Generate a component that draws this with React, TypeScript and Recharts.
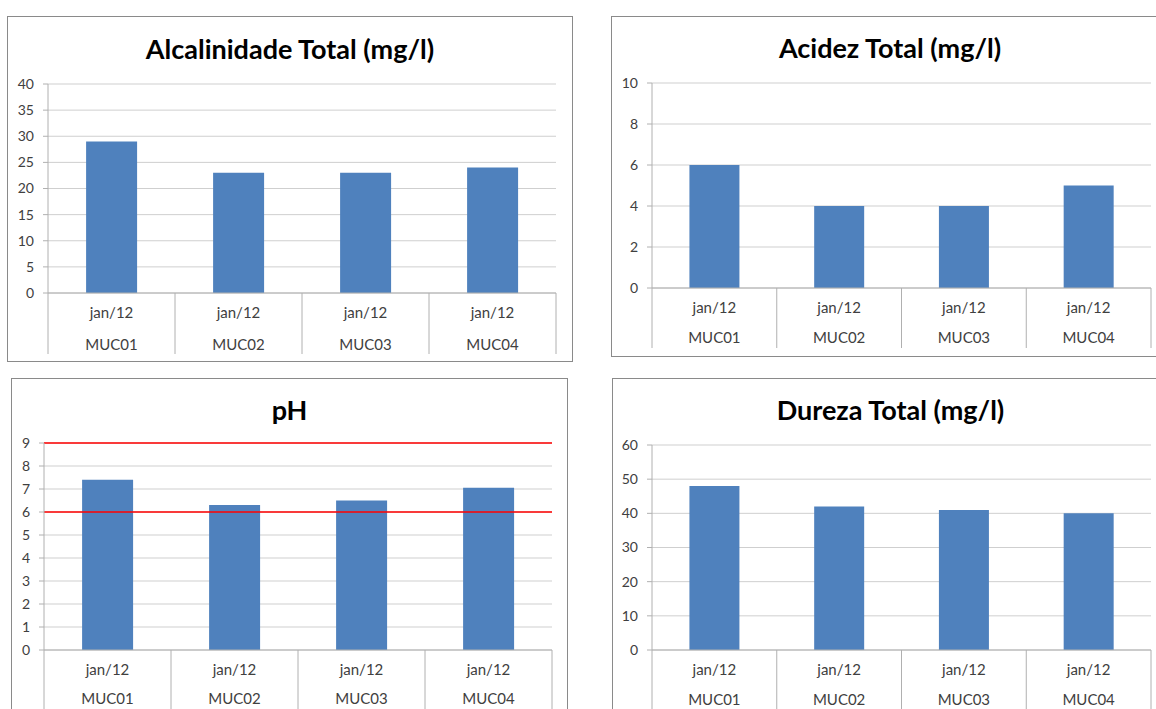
import React from 'react';
import { BarChart, Bar, XAxis, YAxis, CartesianGrid, ReferenceLine } from 'recharts';

const stations = ['MUC01', 'MUC02', 'MUC03', 'MUC04'];
const months = ['jan/12', 'jan/12', 'jan/12', 'jan/12'];

const alcalinidade = [29, 23, 23, 24];
const acidez = [6, 4, 4, 5];
const ph = [7.4, 6.3, 6.5, 7.05];
const dureza = [48, 42, 41, 40];

const alcTicks = [0, 5, 10, 15, 20, 25, 30, 35, 40];
const acidTicks = [0, 2, 4, 6, 8, 10];
const phTicks = [0, 1, 2, 3, 4, 5, 6, 7, 8, 9];
const durTicks = [0, 10, 20, 30, 40, 50, 60];
const phLimits = [6, 9];

const FONT = 'Lato, "Open Sans", sans-serif';
const GRID = '#cfcfcf';
const AXIS = '#b0b0b0';
const TEXT = '#404040';
const BAR = '#4f81bd';

type Box = { x: number; y: number; w: number; h: number };
type Plot = { l: number; t: number; r: number; b: number };

interface PanelProps {
  title: string;
  values: number[];
  ticks: number[];
  box: Box;
  plot: Plot;
  titleY: number;
  divLen: number;
  row2: number;
  limits?: number[];
}

const YW = 30;
const XH = 60;

const Panel: React.FC<PanelProps> = ({ title, values, ticks, box, plot, titleY, divLen, row2, limits }) => {
  const data = stations.map((s, i) => ({ name: s, month: months[i], value: values[i] }));
  const band = (plot.r - plot.l) / stations.length;
  const plotBottom = plot.b - box.y;
  const margin = {
    top: plot.t - box.y,
    left: plot.l - box.x - YW,
    right: box.x + box.w - plot.r,
    bottom: box.y + box.h - plot.b - XH,
  };

  // two-row category labels with Excel-style divider lines
  const renderTick = (p: any) => {
    const { x, index, payload } = p;
    const last = index === stations.length - 1;
    return (
      <g>
        <line x1={x - band / 2} x2={x - band / 2} y1={plotBottom} y2={plotBottom + divLen} stroke={AXIS} />
        {last && (
          <line x1={x + band / 2} x2={x + band / 2} y1={plotBottom} y2={plotBottom + divLen} stroke={AXIS} />
        )}
        <text x={x} y={plotBottom + 25} textAnchor="middle" fontSize={15} fill={TEXT} fontFamily={FONT}>
          {data[index].month}
        </text>
        <text x={x} y={plotBottom + row2} textAnchor="middle" fontSize={15} fill={TEXT} fontFamily={FONT}>
          {payload.value}
        </text>
      </g>
    );
  };

  return (
    <div
      style={{
        position: 'absolute',
        left: box.x,
        top: box.y,
        width: box.w,
        height: box.h,
        border: '1px solid #8a8a8a',
        boxSizing: 'border-box',
        background: '#fff',
      }}
    >
      <div
        style={{
          position: 'absolute',
          left: -1,
          top: titleY - box.y - 17,
          width: box.w,
          textAlign: 'center',
          fontFamily: FONT,
          fontWeight: 700,
          fontSize: 27,
          lineHeight: '34px',
          color: '#000',
          zIndex: 2,
        }}
      >
        {title}
      </div>
      <div style={{ position: 'absolute', left: -1, top: -1 }}>
        <BarChart width={box.w} height={box.h} data={data} margin={margin} barCategoryGap="30%">
          <CartesianGrid vertical={false} stroke={GRID} />
          <XAxis
            dataKey="name"
            interval={0}
            height={XH}
            axisLine={{ stroke: AXIS }}
            tickLine={false}
            tick={renderTick}
          />
          <YAxis
            width={YW}
            domain={[ticks[0], ticks[ticks.length - 1]]}
            ticks={ticks}
            interval={0}
            axisLine={{ stroke: AXIS }}
            tickLine={{ stroke: AXIS }}
            tickSize={5}
            tickMargin={9}
            tick={{ fontSize: 14, fill: TEXT, fontFamily: FONT }}
          />
          <Bar dataKey="value" fill={BAR} isAnimationActive={false} />
          {limits &&
            limits.map((v) => (
              <ReferenceLine key={v} y={v} stroke="#ff0000" strokeWidth={1.5} ifOverflow="extendDomain" />
            ))}
        </BarChart>
      </div>
    </div>
  );
};

export default function App() {
  return (
    <div
      style={{
        position: 'absolute',
        left: 0,
        top: 0,
        width: 1156,
        height: 709,
        overflow: 'hidden',
        background: '#fff',
      }}
    >
      <Panel
        title="Alcalinidade Total (mg/l)"
        values={alcalinidade}
        ticks={alcTicks}
        box={{ x: 7, y: 16, w: 566, h: 346 }}
        plot={{ l: 48, t: 84, r: 556, b: 293 }}
        titleY={48}
        divLen={61}
        row2={57}
      />
      <Panel
        title="Acidez Total (mg/l)"
        values={acidez}
        ticks={acidTicks}
        box={{ x: 611, y: 16, w: 558, h: 341 }}
        plot={{ l: 652, t: 83, r: 1151, b: 288 }}
        titleY={47}
        divLen={60}
        row2={55}
      />
      <Panel
        title="pH"
        values={ph}
        ticks={phTicks}
        box={{ x: 11, y: 378, w: 557, h: 345 }}
        plot={{ l: 44, t: 443, r: 552, b: 650 }}
        titleY={409}
        divLen={80}
        row2={54}
        limits={phLimits}
      />
      <Panel
        title="Dureza Total (mg/l)"
        values={dureza}
        ticks={durTicks}
        box={{ x: 612, y: 378, w: 557, h: 345 }}
        plot={{ l: 652, t: 445, r: 1151, b: 650 }}
        titleY={409}
        divLen={80}
        row2={55}
      />
    </div>
  );
}
